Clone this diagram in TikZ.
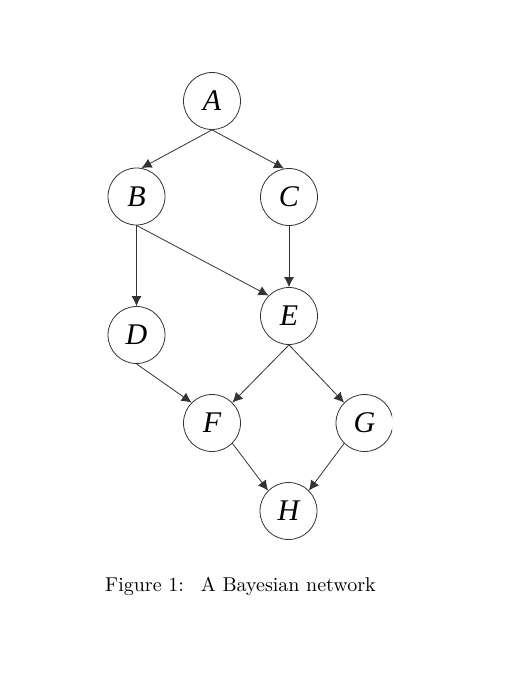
\documentclass[tikz,border=0pt]{standalone}
\usepackage{fontspec}
\newfontfamily\nodefont{Liberation Serif}
\newfontfamily\capfont[Extension=.otf]{lmroman10-regular}
\usetikzlibrary{arrows.meta}
\begin{document}
\begin{tikzpicture}[x=1pt,y=-1pt,
  bnode/.style={circle,draw=black!80,line width=0.8pt,minimum size=57pt,inner sep=0pt,
    font=\nodefont\itshape\fontsize{30}{30}\selectfont},
  edge/.style={draw=black!80,line width=0.8pt,-{Latex[length=10pt,width=10pt]}}]
\useasboundingbox[fill=white] (0,0) rectangle (515,685);
\begin{scope}
\clip (0,0) rectangle (392,685);
\node[bnode] (A) at (212,101) {A};
\node[bnode] (B) at (136.5,196.5) {B};
\node[bnode] (C) at (289,197) {C};
\node[bnode] (D) at (136.5,335) {D};
\node[bnode] (E) at (289,316) {E};
\node[bnode] (F) at (212,423) {F};
\node[bnode] (G) at (364.5,423) {G};
\node[bnode] (H) at (288.5,511) {H};
\end{scope}
\draw[edge] (A.south) -- (B.80);
\draw[edge] (A.south) -- (C.100);
\draw[edge] (B.south) -- (D.north);
\draw[edge] (B.south) -- (E.135);
\draw[edge] (C.south) -- (E.north);
\draw[edge] (D.south) -- (F.135);
\draw[edge] (E.south) -- (F.45);
\draw[edge] (E.south) -- (G.135);
\draw[edge] (F.-45) -- (H.135);
\draw[edge] (G.-135) -- (H.45);
\node[anchor=base west,inner sep=0pt,font=\capfont\fontsize{20}{24}\selectfont] (cap) at (105,591)
  {Figure 1:\hspace{0.85em}A Bayesian network};
\end{tikzpicture}
\end{document}
